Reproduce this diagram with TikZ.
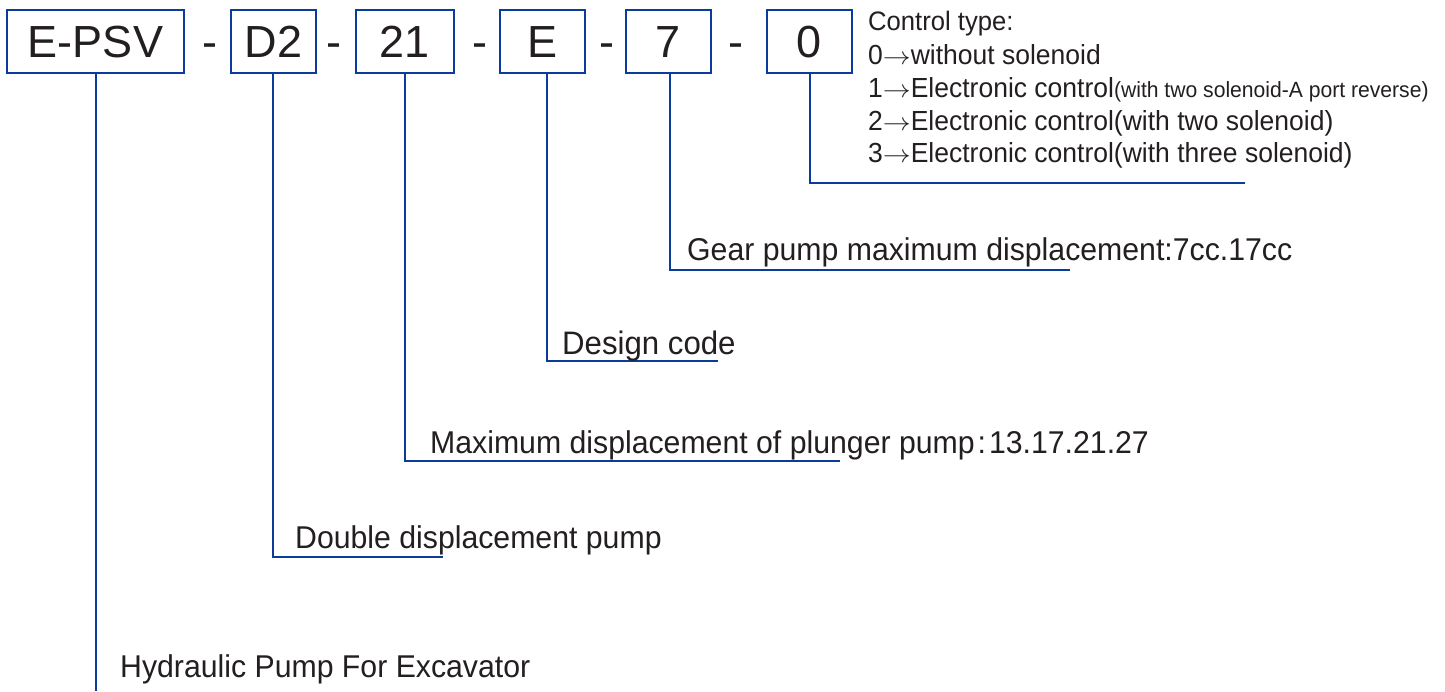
\documentclass[tikz,border=0pt]{standalone}
\usepackage{graphicx}
\usepackage{fontspec}
\setmainfont{Liberation Sans}
\newfontfamily\condfont[FakeStretch=0.96]{Liberation Sans}
\newcommand{\rarr}{\scalebox{1.12}[1]{$\rightarrow$}}
\definecolor{lineblue}{HTML}{0A3C9C}
\definecolor{ink}{HTML}{231F20}
\begin{document}
\begin{tikzpicture}[x=1pt,y=-1pt,
  codebox/.style={draw=lineblue,line width=2.6pt,minimum height=63pt,inner sep=0pt,
    font=\fontsize{45}{50}\selectfont,text=ink,text height=32pt,text depth=0pt},
  conn/.style={draw=lineblue,line width=2pt},
  desc/.style={anchor=base west,inner sep=0pt,font=\condfont\fontsize{31.5}{34}\selectfont,text=ink},
  ctl/.style={anchor=base west,inner sep=0pt,font=\condfont\fontsize{27.6}{30}\selectfont,text=ink},
  sepdash/.style={anchor=base,inner sep=0pt,font=\fontsize{45}{50}\selectfont,text=ink}]
\useasboundingbox[fill=white] (0,0) rectangle (1445,691);
% code boxes
\node[codebox,minimum width=177pt] (epsv) at (95.5,41.5) {E-PSV};
\node[codebox,minimum width=85pt] (d2) at (273.5,41.5) {D2};
\node[codebox,minimum width=98pt] (n21) at (405,41.5) {21};
\node[codebox,minimum width=85pt] (e) at (542.5,41.5) {E};
\node[codebox,minimum width=85pt] (n7) at (668.5,41.5) {7};
\node[codebox,minimum width=85pt] (n0) at (809.5,41.5) {0};
% separators
\node[sepdash] (s1) at (210,57) {-};
\node[sepdash] (s2) at (334,57) {-};
\node[sepdash] (s3) at (479.5,57) {-};
\node[sepdash] (s4) at (606.5,57) {-};
\node[sepdash] (s5) at (735.5,57) {-};
% connector ends
\coordinate (epsvend) at (96,691);
\coordinate (d2end) at (443,557);
\coordinate (n21end) at (840,461);
\coordinate (eend) at (718,361);
\coordinate (n7end) at (1070,270);
\coordinate (n0end) at (1245,183);
% connectors
\draw[conn] ([xshift=0.5pt]epsv.south) -- (epsvend);
\draw[conn] ([xshift=-0.5pt]d2.south) |- (d2end);
\draw[conn] (n21.south) |- (n21end);
\draw[conn] ([xshift=4.5pt]e.south) |- (eend);
\draw[conn] ([xshift=1.5pt]n7.south) |- (n7end);
\draw[conn] ([xshift=0.5pt]n0.south) |- (n0end);
% descriptions
\node[desc] (t1) at (120,677) {Hydraulic Pump For Excavator};
\node[desc] (t2) at (295,548) {Double displacement pump};
\node[desc] (t3) at (430,453) {Maximum displacement of plunger pump\kern3pt:\kern3pt13.17.21.27};
\node[desc,font=\condfont\fontsize{32.5}{34}\selectfont] (t4) at (562,354) {Design code};
\node[desc] (t5) at (687,260) {Gear pump maximum displacement:7cc.17cc};
% control type
\node[ctl,font=\condfont\fontsize{26.7}{30}\selectfont] (c0) at (868,30) {Control type:};
\node[ctl] (c1) at (868,64) {0\rarr without solenoid};
\node[ctl] (c2) at (868,97) {1\rarr Electronic control{\fontsize{22}{24}\selectfont(with two solenoid-A port reverse)}};
\node[ctl] (c3) at (868,130) {2\rarr Electronic control(with two solenoid)};
\node[ctl] (c4) at (868,162) {3\rarr Electronic control(with three solenoid)};
\end{tikzpicture}
\end{document}
